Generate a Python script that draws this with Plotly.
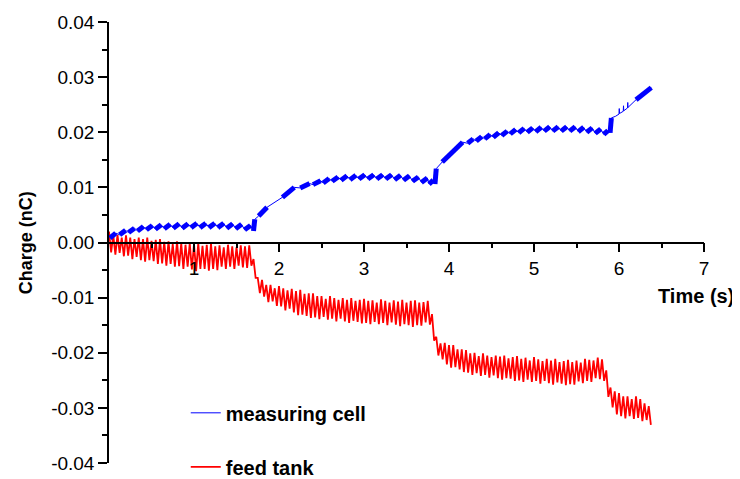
import plotly.graph_objects as go

# ---------------- data ----------------
# measuring cell: centre line of the signal; cell_dense = 1 where a densely
# oscillating stretch of the signal starts at that point
cell_time = [
    0.01, 0.08, 0.125, 0.195, 0.23, 0.30, 0.335, 0.405, 0.44, 0.51, 0.545, 0.615,
    0.65, 0.72, 0.755, 0.825, 0.86, 0.93, 0.965, 1.035, 1.07, 1.14, 1.175, 1.245,
    1.28, 1.35, 1.385, 1.455, 1.49, 1.56, 1.595, 1.665, 1.70, 1.715,
    1.76, 1.86, 2.04, 2.18, 2.25, 2.36, 2.40, 2.49,
    2.52, 2.59, 2.625, 2.695, 2.73, 2.80, 2.835, 2.905, 2.94, 3.01, 3.045, 3.115,
    3.15, 3.22, 3.255, 3.325, 3.36, 3.43, 3.465, 3.535, 3.57, 3.64, 3.675, 3.745,
    3.765, 3.815, 3.835, 3.85, 3.92, 4.16,
    4.22, 4.285, 4.32, 4.385, 4.42, 4.485, 4.52, 4.585, 4.62, 4.685, 4.72, 4.785,
    4.82, 4.885, 4.92, 4.985, 5.02, 5.085, 5.12, 5.185, 5.22, 5.285, 5.32, 5.385,
    5.42, 5.485, 5.52, 5.585, 5.62, 5.685, 5.72, 5.785, 5.82, 5.87, 5.895, 5.91,
    5.96, 6.00, 6.003, 6.006, 6.05, 6.053, 6.056, 6.10, 6.103, 6.106, 6.20, 6.38,
]
cell_charge = [
    0.0008, 0.0017, 0.0014, 0.0022, 0.0018, 0.0026, 0.0021, 0.0029, 0.0023, 0.0031, 0.0024, 0.0032,
    0.0025, 0.0033, 0.0026, 0.0034, 0.0026, 0.0034, 0.0027, 0.0035, 0.0027, 0.0035, 0.0027, 0.0035,
    0.0027, 0.0035, 0.0026, 0.0034, 0.0025, 0.0033, 0.0023, 0.0031, 0.0021, 0.0042,
    0.0048, 0.0064, 0.0082, 0.0100, 0.0099, 0.0107, 0.0105, 0.0112,
    0.0108, 0.0116, 0.0111, 0.0119, 0.0113, 0.0121, 0.0114, 0.0122, 0.0115, 0.0123, 0.0115, 0.0123,
    0.0115, 0.0123, 0.0115, 0.0123, 0.0114, 0.0122, 0.0113, 0.0121, 0.0111, 0.0119, 0.0109, 0.0117,
    0.0106, 0.0113, 0.0106, 0.0134, 0.0146, 0.0182,
    0.0180, 0.0188, 0.0184, 0.0192, 0.0188, 0.0196, 0.0191, 0.0199, 0.0194, 0.0202, 0.0197, 0.0205,
    0.0199, 0.0207, 0.0200, 0.0208, 0.0201, 0.0209, 0.0202, 0.0210, 0.0202, 0.0210, 0.0202, 0.0210,
    0.0202, 0.0210, 0.0201, 0.0209, 0.0200, 0.0208, 0.0198, 0.0206, 0.0196, 0.0203, 0.0199, 0.0226,
    0.0229, 0.0233, 0.0243, 0.0234, 0.0238, 0.0248, 0.0239, 0.0244, 0.0254, 0.0245, 0.0259, 0.0281,
]
cell_dense = [
    1, 0, 1, 0, 1, 0, 1, 0, 1, 0, 1, 0,
    1, 0, 1, 0, 1, 0, 1, 0, 1, 0, 1, 0,
    1, 0, 1, 0, 1, 0, 1, 0, 1, 0,
    1, 0, 1, 0, 1, 0, 1, 0,
    1, 0, 1, 0, 1, 0, 1, 0, 1, 0, 1, 0,
    1, 0, 1, 0, 1, 0, 1, 0, 1, 0, 1, 0,
    1, 0, 1, 0, 1, 0,
    1, 0, 1, 0, 1, 0, 1, 0, 1, 0, 1, 0,
    1, 0, 1, 0, 1, 0, 1, 0, 1, 0, 1, 0,
    1, 0, 1, 0, 1, 0, 1, 0, 1, 0, 1, 0,
    0, 0, 0, 0, 0, 0, 0, 0, 0, 0, 1, 0,
]

# feed tank: upper and lower excursions of the oscillating signal,
# upper read every 0.05 s, lower half a step later
tank_sample_step = 0.05
tank_upper = [
    0.0020, 0.0014, 0.0014, 0.0009, 0.0013, 0.0009, 0.0006, 0.0009, 0.0006, 0.0009,
    0.0003, 0.0005, 0.0006, 0.0001, 0.0002, -0.0003, 0.0002, -0.0001, -0.0004, -0.0001,
    -0.0003, -0.0001, -0.0006, -0.0004, -0.0002, -0.0007, -0.0005, -0.0009, -0.0004, -0.0007,
    -0.0009, -0.0005, -0.0007, -0.0005, -0.0030, -0.0064, -0.0068, -0.0077, -0.0077, -0.0083,
    -0.0079, -0.0083, -0.0087, -0.0084, -0.0088, -0.0086, -0.0093, -0.0092, -0.0092, -0.0097,
    -0.0097, -0.0102, -0.0097, -0.0101, -0.0104, -0.0101, -0.0104, -0.0101, -0.0106, -0.0104,
    -0.0102, -0.0106, -0.0105, -0.0109, -0.0103, -0.0106, -0.0109, -0.0105, -0.0107, -0.0104,
    -0.0109, -0.0106, -0.0105, -0.0109, -0.0108, -0.0106, -0.0130, -0.0171, -0.0183, -0.0182,
    -0.0186, -0.0186, -0.0194, -0.0194, -0.0195, -0.0201, -0.0200, -0.0206, -0.0201, -0.0205,
    -0.0208, -0.0205, -0.0207, -0.0205, -0.0210, -0.0208, -0.0206, -0.0211, -0.0209, -0.0214,
    -0.0208, -0.0212, -0.0215, -0.0211, -0.0214, -0.0211, -0.0217, -0.0215, -0.0213, -0.0217,
    -0.0214, -0.0218, -0.0211, -0.0213, -0.0214, -0.0209, -0.0212, -0.0232, -0.0263, -0.0270,
    -0.0273, -0.0279, -0.0279, -0.0284, -0.0279, -0.0284, -0.0292, -0.0297,
]
tank_lower = [
    -0.0018, -0.0022, -0.0019, -0.0025, -0.0024, -0.0030, -0.0026, -0.0032, -0.0035, -0.0032,
    -0.0034, -0.0039, -0.0038, -0.0042, -0.0039, -0.0044, -0.0043, -0.0048, -0.0044, -0.0049,
    -0.0052, -0.0048, -0.0048, -0.0051, -0.0048, -0.0050, -0.0044, -0.0048, -0.0044, -0.0048,
    -0.0042, -0.0045, -0.0046, -0.0042, -0.0064, -0.0092, -0.0098, -0.0108, -0.0107, -0.0115,
    -0.0116, -0.0123, -0.0120, -0.0127, -0.0132, -0.0131, -0.0133, -0.0137, -0.0136, -0.0139,
    -0.0135, -0.0140, -0.0138, -0.0143, -0.0138, -0.0143, -0.0146, -0.0142, -0.0144, -0.0147,
    -0.0146, -0.0148, -0.0144, -0.0148, -0.0146, -0.0150, -0.0145, -0.0149, -0.0152, -0.0148,
    -0.0150, -0.0153, -0.0150, -0.0151, -0.0145, -0.0149, -0.0178, -0.0205, -0.0212, -0.0221,
    -0.0227, -0.0226, -0.0230, -0.0235, -0.0236, -0.0240, -0.0237, -0.0242, -0.0240, -0.0245,
    -0.0241, -0.0246, -0.0249, -0.0246, -0.0247, -0.0251, -0.0250, -0.0253, -0.0249, -0.0253,
    -0.0251, -0.0256, -0.0251, -0.0255, -0.0258, -0.0254, -0.0256, -0.0259, -0.0257, -0.0258,
    -0.0252, -0.0255, -0.0251, -0.0253, -0.0246, -0.0248, -0.0251, -0.0280, -0.0299, -0.0312,
    -0.0315, -0.0319, -0.0315, -0.0320, -0.0318, -0.0324, -0.0322, -0.0331,
]

series_names = ["measuring cell", "feed tank"]
x_tick_vals = [1, 2, 3, 4, 5, 6, 7]
x_tick_labels = ["1", "2", "3", "4", "5", "6", "7"]
x_minor_vals = [0.5, 1.5, 2.5, 3.5, 4.5, 5.5, 6.5]
y_tick_vals = [-0.04, -0.03, -0.02, -0.01, 0.0, 0.01, 0.02, 0.03, 0.04]
y_tick_labels = ["-0.04", "-0.03", "-0.02", "-0.01", "0.00", "0.01", "0.02", "0.03", "0.04"]
y_minor_vals = [-0.035, -0.025, -0.015, -0.005, 0.005, 0.015, 0.025, 0.035]

# ---------------- build traces ----------------
BLUE = "#0000FF"
RED = "#FF0000"

dense_x, dense_y = [], []
for i in range(len(cell_time) - 1):
    if cell_dense[i]:
        dense_x += [cell_time[i], cell_time[i + 1], None]
        dense_y += [cell_charge[i], cell_charge[i + 1], None]

tank_x, tank_y = [], []
for i, (hi, lo) in enumerate(zip(tank_upper, tank_lower)):
    t = round(i * tank_sample_step, 4)
    tank_x += [t, round(t + tank_sample_step / 2, 4)]
    tank_y += [hi, lo]

fig = go.Figure()
fig.add_trace(go.Scatter(x=tank_x, y=tank_y, mode="lines",
                         line=dict(color=RED, width=1.8),
                         name=series_names[1], legendgroup="b", legendrank=2))
fig.add_trace(go.Scatter(x=cell_time, y=cell_charge, mode="lines",
                         line=dict(color=BLUE, width=1),
                         name=series_names[0], legendgroup="a", legendrank=1))
fig.add_trace(go.Scatter(x=dense_x, y=dense_y, mode="lines",
                         line=dict(color=BLUE, width=5),
                         showlegend=False, legendgroup="a", hoverinfo="skip"))

FONT = "Arial, 'Liberation Sans', sans-serif"

# the page body adds an 8 px offset, so the figure is 8 px smaller on each axis
fig.update_layout(
    width=732, height=471,
    margin=dict(l=101, r=36, t=14, b=16, autoexpand=False),
    plot_bgcolor="white", paper_bgcolor="white",
    font=dict(family=FONT, size=19, color="black"),
    showlegend=True,
    legend=dict(x=0.129, y=0.158, xanchor="left", yanchor="top",
                traceorder="grouped", tracegroupgap=25,
                font=dict(family=FONT, size=20, color="black", weight="bold"),
                bgcolor="rgba(0,0,0,0)"),
    xaxis=dict(range=[0, 7], anchor="free", position=0.5, automargin=False,
               showline=True, linecolor="black", linewidth=1.5,
               ticks="outside", ticklen=9, tickwidth=1.5, tickcolor="black",
               tickmode="array", tickvals=x_tick_vals, ticktext=x_tick_labels,
               minor=dict(tickmode="array", tickvals=x_minor_vals, ticks="outside",
                          ticklen=5, tickwidth=1.5, tickcolor="black"),
               showgrid=False, zeroline=False,
               tickfont=dict(family=FONT, size=19, color="black")),
    yaxis=dict(range=[-0.04, 0.04], automargin=False,
               showline=True, linecolor="black", linewidth=1.5,
               ticks="outside", ticklen=9, tickwidth=1.5, tickcolor="black",
               tickmode="array", tickvals=y_tick_vals, ticktext=y_tick_labels,
               minor=dict(tickmode="array", tickvals=y_minor_vals, ticks="outside",
                          ticklen=5, tickwidth=1.5, tickcolor="black"),
               showgrid=False, zeroline=False,
               tickfont=dict(family=FONT, size=19, color="black")),
    annotations=[
        dict(text="Time (s)", xref="paper", yref="paper", x=0.986, y=0.379,
             xanchor="center", yanchor="middle", showarrow=False,
             font=dict(family=FONT, size=20, color="black", weight="bold")),
        dict(text="Charge (nC)", xref="paper", yref="paper", x=-0.14, y=0.5,
             xanchor="center", yanchor="middle", showarrow=False, textangle=-90,
             font=dict(family=FONT, size=18, color="black", weight="bold")),
    ],
)

fig.write_html("out.html")
